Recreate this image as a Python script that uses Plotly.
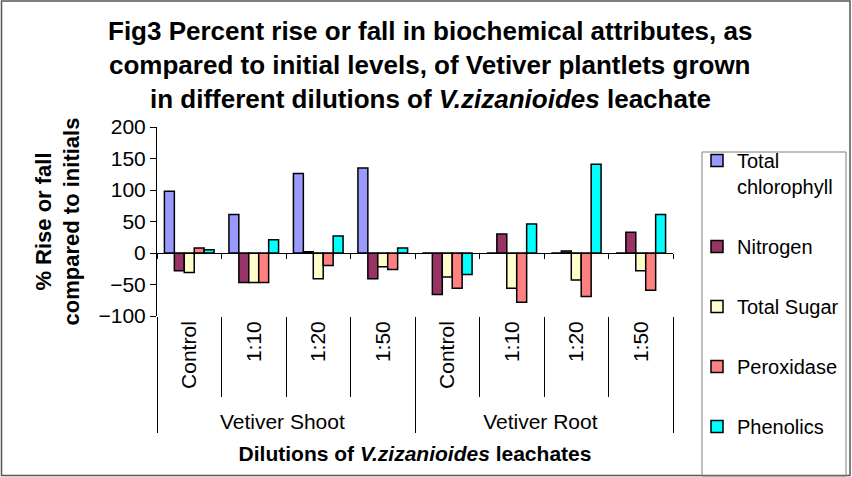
import plotly.graph_objects as go

# ---- data ----
groups = ["Vetiver Shoot"] * 4 + ["Vetiver Root"] * 4
dilutions = ["Control", "1:10", "1:20", "1:50"] * 2
series_names = ["Total<br>chlorophyll", "Nitrogen", "Total Sugar", "Peroxidase", "Phenolics"]
chlorophyll = [98, 61, 126, 135, 0, 0, 0, 0]
nitrogen = [-28, -47, 2, -41, -66, 30, 3, 33]
total_sugar = [-31, -47, -41, -22, -38, -56, -43, -28]
peroxidase = [8, -47, -20, -26, -56, -78, -69, -59]
phenolics = [5, 21, 27, 8, -34, 46, 141, 61]
y_ticks = [-100, -50, 0, 50, 100, 150, 200]
colors = ["#9999FF", "#993366", "#FFFFCC", "#FF8080", "#00FFFF"]

title_lines = [
    "Fig3 Percent rise or fall in biochemical attributes, as",
    "compared to initial levels, of Vetiver plantlets grown",
    "in different dilutions of <i>V.zizanioides</i> leachate",
]

FONT = "Liberation Sans, Arial, sans-serif"

x = [groups, dilutions]
fig = go.Figure()
for name, vals, col in zip(series_names,
                           [chlorophyll, nitrogen, total_sugar, peroxidase, phenolics],
                           colors):
    fig.add_trace(go.Bar(x=x, y=vals, name=name, legendgroup=name,
                         marker=dict(color=col, line=dict(color="black", width=1.5))))

# invisible helper trace for the category axis drawn at zero
fig.add_trace(go.Scatter(x=x, y=chlorophyll, xaxis="x2", mode="markers",
                         marker=dict(opacity=0), showlegend=False, hoverinfo="skip"))

W, H = 852, 477
L, R, T, B = 157, 179, 127, 161
pw, ph = W - L - R, H - T - B

def px(xp):
    return (xp - L) / pw

def py(yp):
    return (H - B - yp) / ph

annotations = []
for line, yc in zip(title_lines, [31, 65, 99]):
    annotations.append(dict(text="<b>" + line + "</b>", x=px(430), y=py(yc),
                            xref="paper", yref="paper", showarrow=False,
                            xanchor="center", yanchor="middle",
                            font=dict(size=26, color="black", family=FONT)))

shapes = [
    # outer chart border
    dict(type="rect", xref="paper", yref="paper", x0=px(1.5), x1=px(850), y0=py(475.5), y1=py(1),
         line=dict(color="#555555", width=1.5), layer="below"),
    # legend box
    dict(type="rect", xref="paper", yref="paper", x0=px(702), x1=px(846), y0=py(476), y1=py(152),
         line=dict(color="#808080", width=1), layer="below"),
]

fig.update_layout(
    width=W, height=H,
    margin=dict(l=L, r=R, t=T, b=B, autoexpand=False),
    paper_bgcolor="white", plot_bgcolor="white",
    font=dict(family=FONT, color="black", size=20),
    barmode="group", bargap=0.23, bargroupgap=0,
    showlegend=True,
    legend=dict(x=px(697), y=py(141), xanchor="left", yanchor="top",
                traceorder="grouped", tracegroupgap=31, valign="top", maxheight=420,
                font=dict(size=20, family=FONT), borderwidth=0, bgcolor="rgba(0,0,0,0)"),
    annotations=annotations,
    shapes=shapes,
    xaxis=dict(type="multicategory", showline=False, showgrid=False, zeroline=False,
               ticks="outside", tickson="boundaries", ticklen=80, tickcolor="black", tickwidth=1,
               tickangle=-90, tickfont=dict(size=21),
               showdividers=True, dividercolor="black", dividerwidth=1,
               title=dict(text="<b>Dilutions of <i>V.zizanioides</i> leachates</b>",
                          font=dict(size=21), standoff=14)),
    xaxis2=dict(type="multicategory", overlaying="x", matches="x", anchor="free", position=py(253),
                showline=True, linecolor="black", linewidth=1, showgrid=False, zeroline=False,
                ticks="outside", tickson="boundaries", ticklen=5, tickcolor="black",
                showticklabels=False, showdividers=False),
    yaxis=dict(range=[-100, 200], tickvals=y_ticks, showgrid=False, zeroline=False,
               showline=True, linecolor="black", linewidth=1,
               ticks="outside", ticklen=6, tickcolor="black", tickfont=dict(size=21),
               title=dict(text="<b>% Rise or fall<br>compared to initials</b>",
                          font=dict(size=22), standoff=12)),
)

fig.write_html("out.html", config={"displayModeBar": False},
               post_script="document.body.style.margin='0';document.body.style.overflow='hidden';")
